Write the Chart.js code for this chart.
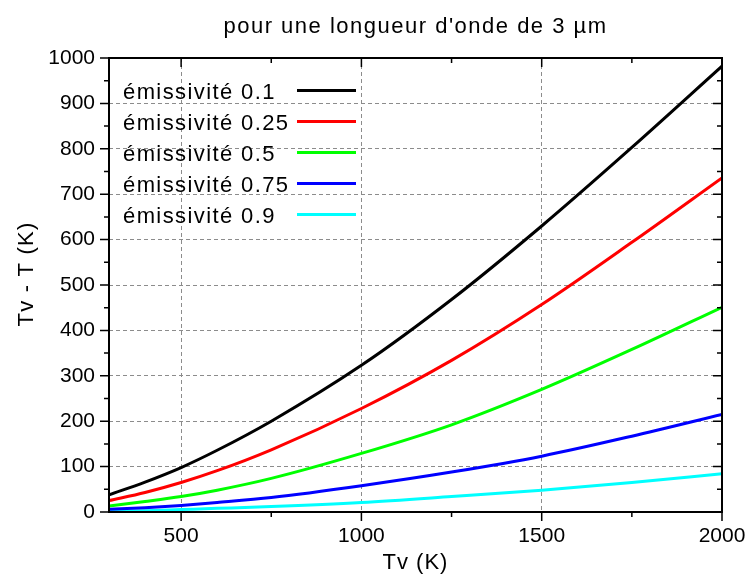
<!DOCTYPE html>
<html>
<head>
<meta charset="utf-8">
<title>Tv - T (K)</title>
<script src="https://cdn.jsdelivr.net/npm/chart.js@4.4.1/dist/chart.umd.min.js"></script>
<style>
  html, body { margin: 0; padding: 0; background: #fff; }
  #wrap { width: 747px; height: 577px; }
</style>
</head>
<body>
<div id="wrap"><canvas id="c"></canvas></div>
<script>
// values (Tv in K, Tv - T in K)
const tv    = [300, 400, 500, 600, 750, 1000, 1250, 1500, 1750, 2000];
const e010  = [38, 66, 98, 136, 200, 323, 468, 630, 803, 982];
const e025  = [25, 43, 65, 91, 137, 228, 334, 457, 594, 736];
const e050  = [13, 23, 34, 48, 74, 129, 192, 270, 358, 451];
const e075  = [6, 9.5, 14.5, 21, 32, 58, 88, 123, 167, 215];
const e090  = [1, 3, 5.5, 8, 12, 21, 34, 48, 65, 84];

const labels = ['émissivité 0.1', 'émissivité 0.25', 'émissivité 0.5', 'émissivité 0.75', 'émissivité 0.9'];
const colors = ['#000000', '#ff0000', '#00ff00', '#0000ff', '#00ffff'];

const xTicks = [500, 750, 1000, 1250, 1500, 1750, 2000];
const yTicks = [0, 50, 100, 150, 200, 250, 300, 350, 400, 450, 500, 550, 600, 650, 700, 750, 800, 850, 900, 950, 1000];

const FONT = "'Liberation Sans', Arial, Helvetica, sans-serif";
const GRID = '#8c8c8c';

const pts = ys => ys.map((v, i) => ({ x: tv[i], y: v }));

// frame box + ticks (in on top/right, out on bottom/left)
const frame = {
  id: 'frame',
  afterDraw(chart) {
    const { ctx, chartArea: a, scales: { x, y } } = chart;
    ctx.save();
    ctx.strokeStyle = '#000';
    ctx.lineWidth = 1.5;
    ctx.beginPath();
    xTicks.forEach(v => {
      const px = x.getPixelForValue(v);
      const len = v % 500 === 0 ? 9 : 5;
      ctx.moveTo(px, a.bottom); ctx.lineTo(px, a.bottom + len);
      ctx.moveTo(px, a.top); ctx.lineTo(px, a.top + len);
    });
    yTicks.forEach(v => {
      const py = y.getPixelForValue(v);
      const len = v % 100 === 0 ? 9 : 5;
      ctx.moveTo(a.left - len, py); ctx.lineTo(a.left, py);
      ctx.moveTo(a.right - len, py); ctx.lineTo(a.right, py);
    });
    ctx.stroke();
    ctx.lineWidth = 2;
    ctx.strokeRect(a.left, a.top, a.right - a.left, a.bottom - a.top);
    ctx.restore();
  }
};

// legend in the upper left corner, text first then the line sample
const legendBox = {
  id: 'legendBox',
  afterDraw(chart) {
    const { ctx, chartArea: a } = chart;
    ctx.save();
    ctx.font = '22px ' + FONT;
    ctx.letterSpacing = '1.4px';
    ctx.fillStyle = '#000';
    ctx.textAlign = 'left';
    ctx.textBaseline = 'alphabetic';
    chart.data.datasets.forEach((ds, i) => {
      const base = a.top + 41 + i * 31;
      ctx.fillText(ds.label, a.left + 14, base);
      ctx.strokeStyle = ds.borderColor;
      ctx.lineWidth = 3;
      ctx.beginPath();
      ctx.moveTo(a.left + 188, base - 8.5);
      ctx.lineTo(a.left + 247, base - 8.5);
      ctx.stroke();
    });
    ctx.restore();
  }
};

// title and axis titles
const texts = {
  id: 'texts',
  afterDraw(chart) {
    const { ctx, chartArea: a } = chart;
    const cx = (a.left + a.right) / 2;
    ctx.save();
    ctx.fillStyle = '#000';
    ctx.textAlign = 'center';
    ctx.textBaseline = 'alphabetic';
    ctx.font = '22px ' + FONT;
    ctx.letterSpacing = '1.5px';
    ctx.fillText("pour une longueur d'onde de 3 µm", cx, 33);
    ctx.letterSpacing = '1px';
    ctx.fillText('Tv (K)', cx, 569);
    ctx.letterSpacing = '1.2px';
    ctx.translate(33, 274);
    ctx.rotate(-Math.PI / 2);
    ctx.fillText('Tv - T (K)', 0, 0);
    ctx.restore();
  }
};

const series = [e010, e025, e050, e075, e090];

new Chart(document.getElementById('c'), {
  type: 'line',
  data: {
    datasets: series.map((s, i) => ({
      label: labels[i],
      data: pts(s),
      borderColor: colors[i],
      backgroundColor: colors[i],
      borderWidth: 3,
      pointRadius: 0,
      cubicInterpolationMode: 'monotone',
      fill: false
    }))
  },
  options: {
    responsive: true,
    maintainAspectRatio: false,
    animation: false,
    layout: { padding: { top: 58, right: 25, left: 0, bottom: 0 } },
    plugins: { legend: { display: false }, title: { display: false }, tooltip: { enabled: false } },
    scales: {
      x: {
        type: 'linear', min: 300, max: 2000,
        afterBuildTicks: s => { s.ticks = xTicks.map(v => ({ value: v })); },
        afterFit: s => { s.height = 65; s.paddingLeft = 0; s.paddingRight = 0; },
        grid: { color: c => (c.tick && c.tick.value % 500 === 0) ? GRID : 'rgba(0,0,0,0)', lineWidth: 1, drawTicks: false },
        border: { display: false, dash: [4, 3] },
        ticks: { autoSkip: false, maxRotation: 0, padding: 12, color: '#000', font: { family: FONT, size: 21 }, callback: v => v % 500 === 0 ? v : '' }
      },
      y: {
        min: 0, max: 1000,
        afterBuildTicks: s => { s.ticks = yTicks.map(v => ({ value: v })); },
        afterFit: s => { s.width = 109; s.paddingTop = 0; s.paddingBottom = 0; },
        grid: { color: c => (c.tick && c.tick.value % 100 === 0) ? GRID : 'rgba(0,0,0,0)', lineWidth: 1, drawTicks: false },
        border: { display: false, dash: [4, 3] },
        ticks: { autoSkip: false, padding: 14, color: '#000', font: { family: FONT, size: 21 }, callback: v => v % 100 === 0 ? v : '' }
      }
    }
  },
  plugins: [frame, legendBox, texts]
});
</script>
</body>
</html>
